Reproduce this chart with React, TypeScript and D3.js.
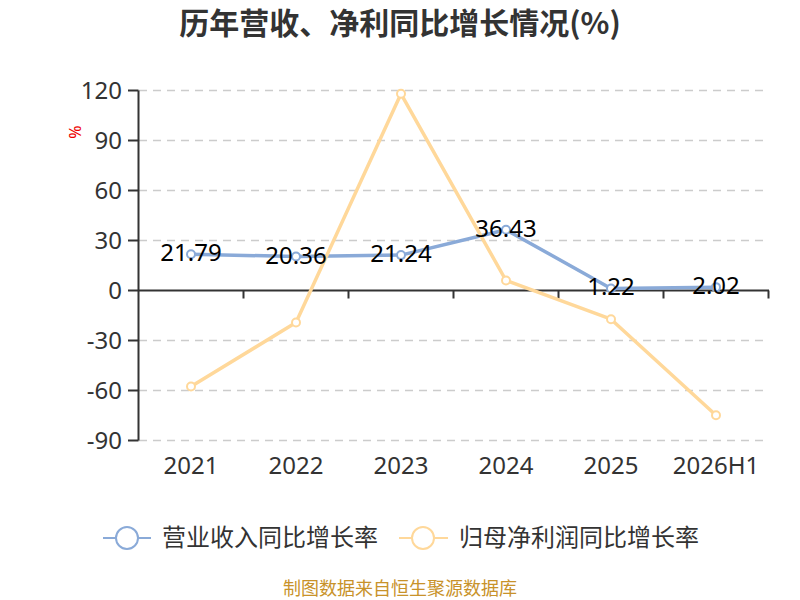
import React from "react";
import * as d3 from "d3";

const categories = ["2021", "2022", "2023", "2024", "2025", "2026H1"];
const revenueGrowth = [21.79, 20.36, 21.24, 36.43, 1.22, 2.02];
const profitGrowth = [-57.6, -19.2, 118, 6.0, -17.2, -74.8];
const yTicks = [-90, -60, -30, 0, 30, 60, 90, 120];
const seriesNames = ["营业收入同比增长率", "归母净利润同比增长率"];

const BLUE = "#8aaad8";
const ORANGE = "#ffd89a";
const FONT = "'Noto Sans', 'Noto Sans CJK SC', sans-serif";
const CJK = "'Noto Sans CJK SC', sans-serif";

export default function App() {
  const x = d3.scaleBand<string>().domain(categories).range([138.5, 768.5]);
  const y = d3.scaleLinear().domain([-90, 120]).range([440.5, 90.5]);
  const cx = (c: string) => (x(c) as number) + x.bandwidth() / 2;

  const blueLine = d3
    .line<number>()
    .x((_, i) => cx(categories[i]))
    .y((d) => y(d));
  const orangeLine = d3
    .line<number>()
    .x((_, i) => cx(categories[i]))
    .y((d) => y(d));

  const boundaries = categories.map((c) => (x(c) as number) + x.bandwidth());

  return (
    <svg
      width={800}
      height={600}
      style={{ position: "absolute", left: 0, top: 0, background: "#fff" }}
      fontFamily={FONT}
    >
      <text
        x={400}
        y={34}
        textAnchor="middle"
        fontSize={30}
        fontWeight="bold"
        fill="#333"
        fontFamily={CJK}
      >
        历年营收、净利同比增长情况(%)
      </text>

      {/* grid */}
      {yTicks
        .filter((t) => t !== 0)
        .map((t) => (
          <line
            key={"g" + t}
            x1={139}
            x2={768}
            y1={y(t)}
            y2={y(t)}
            stroke="#ccc"
            strokeWidth={1.5}
            strokeDasharray="8,6"
          />
        ))}

      {/* y axis */}
      <line x1={138.5} x2={138.5} y1={y(120)} y2={y(-90)} stroke="#333" strokeWidth={2} />
      {yTicks.map((t) => (
        <g key={"t" + t}>
          <line x1={128} x2={138.5} y1={y(t)} y2={y(t)} stroke="#333" strokeWidth={2} />
          <text x={122} y={y(t)} dy="0.36em" textAnchor="end" fontSize={24} fill="#333">
            {t}
          </text>
        </g>
      ))}
      <text
        x={0}
        y={0}
        transform={`translate(81,132) rotate(-90)`}
        textAnchor="middle"
        fontSize={16}
        fill="#e00"
      >
        %
      </text>

      {/* x axis */}
      <line x1={138.5} x2={769} y1={y(0)} y2={y(0)} stroke="#333" strokeWidth={2} />
      {boundaries.map((b, i) => (
        <line key={"xt" + i} x1={b} x2={b} y1={y(0)} y2={y(0) + 8} stroke="#333" strokeWidth={2} />
      ))}
      {categories.map((c) => (
        <text key={"xl" + c} x={cx(c)} y={474} textAnchor="middle" fontSize={24} fill="#333">
          {c}
        </text>
      ))}

      {/* lines */}
      <path d={blueLine(revenueGrowth) || ""} fill="none" stroke={BLUE} strokeWidth={3.5} strokeLinejoin="round" />
      <path d={orangeLine(profitGrowth) || ""} fill="none" stroke={ORANGE} strokeWidth={3.5} strokeLinejoin="round" />
      {revenueGrowth.map((v, i) => (
        <circle key={"bc" + i} cx={cx(categories[i])} cy={y(v)} r={4} fill="#fff" stroke={BLUE} strokeWidth={2} />
      ))}
      {profitGrowth.map((v, i) => (
        <circle key={"oc" + i} cx={cx(categories[i])} cy={y(v)} r={4} fill="#fff" stroke={ORANGE} strokeWidth={2} />
      ))}
      {revenueGrowth.map((v, i) => (
        <text
          key={"bl" + i}
          x={cx(categories[i])}
          y={y(v) + 7}
          textAnchor="middle"
          fontSize={24}
          fill="#000"
        >
          {v.toFixed(2)}
        </text>
      ))}

      {/* legend */}
      <g>
        <line x1={103} x2={151} y1={538} y2={538} stroke={BLUE} strokeWidth={2} />
        <circle cx={127} cy={538} r={11} fill="#fff" stroke={BLUE} strokeWidth={2} />
        <text x={162} y={538} dy="0.35em" fontSize={24} fill="#333" fontFamily={CJK}>
          {seriesNames[0]}
        </text>
        <line x1={399} x2={448} y1={538} y2={538} stroke={ORANGE} strokeWidth={2} />
        <circle cx={423} cy={538} r={11} fill="#fff" stroke={ORANGE} strokeWidth={2} />
        <text x={459} y={538} dy="0.35em" fontSize={24} fill="#333" fontFamily={CJK}>
          {seriesNames[1]}
        </text>
      </g>

      <text x={400} y={595} textAnchor="middle" fontSize={18} fill="#c8922a" fontFamily={CJK}>
        制图数据来自恒生聚源数据库
      </text>
    </svg>
  );
}
